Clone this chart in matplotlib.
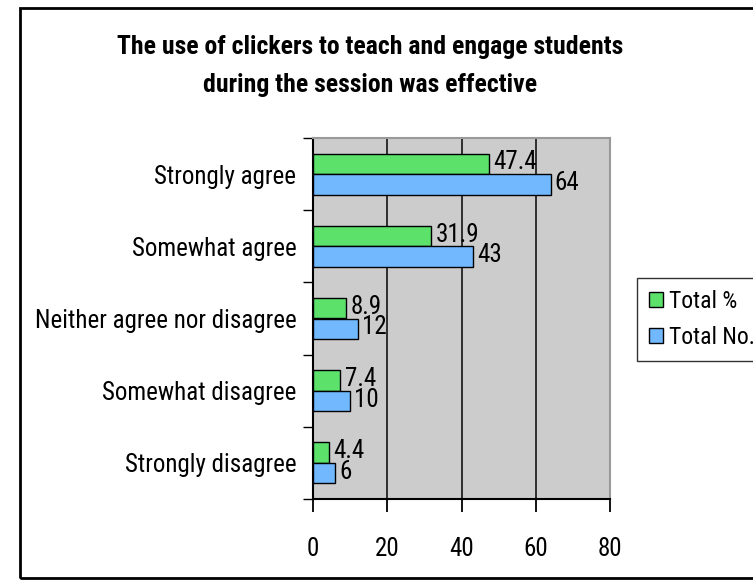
import matplotlib
matplotlib.use("Agg")
import matplotlib.pyplot as plt
from matplotlib.patches import Patch, Rectangle
import numpy as np

plt.rcParams['font.family'] = ['Roboto Condensed', 'Archivo Narrow', 'Liberation Sans', 'DejaVu Sans']

categories = ["Strongly agree", "Somewhat agree", "Neither agree nor disagree",
              "Somewhat disagree", "Strongly disagree"]
total_pct = [47.4, 31.9, 8.9, 7.4, 4.4]
total_no = [64, 43, 12, 10, 6]
pct_labels = ["47.4", "31.9", "8.9", "7.4", "4.4"]
no_labels = ["64", "43", "12", "10", "6"]
series_names = ["Total %", "Total No."]
x_ticks = [0, 20, 40, 60, 80]
title_lines = ["The use of clickers to teach and engage students",
               "during the session was effective"]

green = "#5CE16B"
blue = "#72B8FF"
plot_bg = "#CCCCCC"

W, H = 753, 582
fig = plt.figure(figsize=(W / 100, H / 100), dpi=100)
ax = fig.add_axes([313 / W, (H - 499) / H, (610 - 313) / W, (499 - 138) / H])
ax.set_facecolor(plot_bg)

n = len(categories)
y = np.arange(n)
bh = 0.285
ax.barh(y - bh / 2, total_pct, height=bh, color=green, edgecolor="black", linewidth=1, zorder=3)
ax.barh(y + bh / 2, total_no, height=bh, color=blue, edgecolor="black", linewidth=1, zorder=3)

fs = 18
for i in range(n):
    ax.annotate(pct_labels[i], (total_pct[i], y[i] - bh / 2), xytext=(3, 1),
                textcoords="offset points", va="center", ha="left", fontsize=fs, zorder=4)
    ax.annotate(no_labels[i], (total_no[i], y[i] + bh / 2), xytext=(3, 1),
                textcoords="offset points", va="center", ha="left", fontsize=fs, zorder=4)

ax.set_xlim(0, 80)
ax.set_ylim(n - 0.5, -0.5)
ax.set_xticks(x_ticks)
ax.set_xticklabels([str(t) for t in x_ticks], fontsize=fs)
ax.xaxis.grid(True, color="#222222", linewidth=1.3, zorder=1)
ax.set_axisbelow(True)

ax.set_yticks(np.arange(n + 1) - 0.5)
ax.set_yticklabels([])
ax.set_yticks(y, minor=True)
ax.set_yticklabels(categories, minor=True, fontsize=fs)
ax.tick_params(axis="y", which="minor", length=0, pad=12)
ax.tick_params(axis="y", which="major", length=7, width=1, direction="out")
ax.tick_params(axis="x", length=9, width=1.3, direction="out", pad=18)

for s in ["top", "right"]:
    ax.spines[s].set_color("#999999")
    ax.spines[s].set_linewidth(1.5)
for s in ["left", "bottom"]:
    ax.spines[s].set_color("black")
    ax.spines[s].set_linewidth(1.5)

# two-line bold title, each line placed on its own baseline
title_family = ['Roboto Condensed', 'Barlow Semi Condensed', 'Archivo Narrow', 'DejaVu Sans']
for line, base in zip(title_lines, [54, 92]):
    fig.text(370 / W, 1 - base / H, line, ha="center", va="baseline", fontsize=18.5,
             fontweight="bold", family=title_family)

handles = [Patch(facecolor=green, edgecolor="black", linewidth=1),
           Patch(facecolor=blue, edgecolor="black", linewidth=1)]
leg = fig.legend(handles, series_names, loc="lower left",
                 bbox_to_anchor=(637 / W, (H - 361) / H), fontsize=17,
                 handlelength=0.6, handleheight=0.6, handletextpad=0.25,
                 labelspacing=0.55, borderpad=0.5, borderaxespad=0,
                 frameon=True, fancybox=False)
leg.get_frame().set_edgecolor("black")
leg.get_frame().set_linewidth(1)

fig.patches.append(Rectangle((20 / W, 1 - 578 / H), (780 - 20) / W, (578 - 8) / H,
                             transform=fig.transFigure, fill=False,
                             edgecolor="black", linewidth=2, clip_on=False))

fig.savefig("out.png", dpi=100)
